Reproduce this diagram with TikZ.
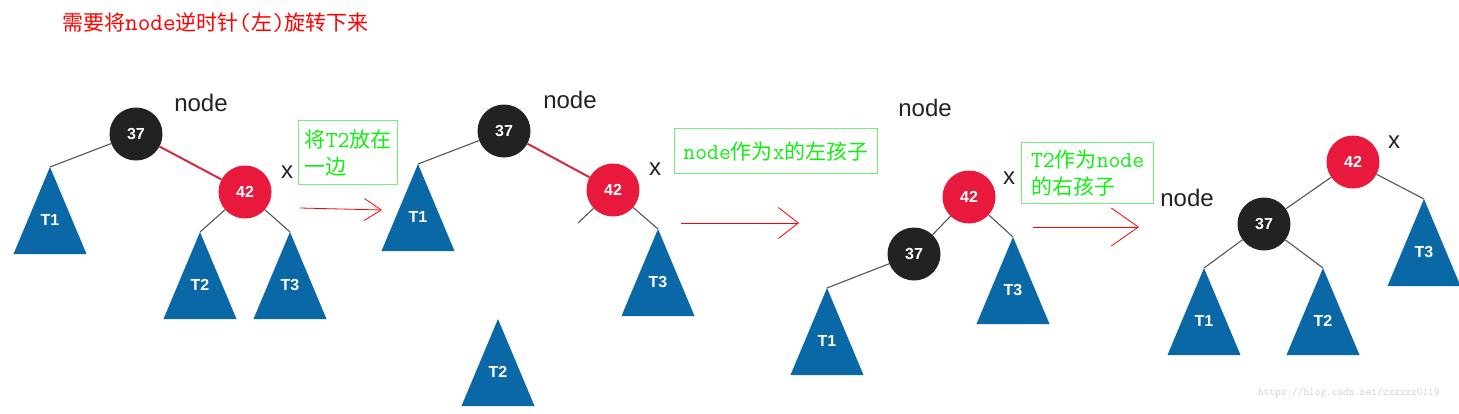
\documentclass[tikz,border=0pt]{standalone}
\usepackage{fontspec}
\setmainfont{Liberation Sans}
\newfontfamily\zh{Noto Sans CJK SC}
\usetikzlibrary{arrows.meta}
\definecolor{nblack}{HTML}{222222}
\definecolor{nred}{HTML}{E8193C}
\definecolor{tblue}{HTML}{0A68A6}
\definecolor{gtxt}{HTML}{11EE11}
\definecolor{gbox}{HTML}{77EE77}
\definecolor{edgec}{HTML}{555555}
\definecolor{redgec}{HTML}{D62A40}
\definecolor{wmark}{HTML}{CFCFCF}
\tikzset{
  rbnode/.style={circle, minimum size=53pt, inner sep=0pt, text=white, font=\bfseries\fontsize{16}{16}\selectfont},
  blk/.style={rbnode, fill=nblack},
  rd/.style={rbnode, fill=nred},
  tlab/.style={text=white, font=\bfseries\fontsize{16}{16}\selectfont, inner sep=0pt},
  lbl/.style={text=nblack, font=\fontsize{24}{24}\selectfont, inner sep=0pt},
  edge/.style={draw=edgec, line width=1.1pt},
  redge/.style={draw=redgec, line width=2pt},
  gnote/.style={draw=gbox, line width=1.2pt, text=gtxt, anchor=north west, align=left, inner xsep=5pt, inner ysep=0pt, font=\zh\fontsize{21}{27}\selectfont},
  rarrow/.style 2 args={draw=red, line width=0.8pt, -{Straight Barb[length=#1pt, width=#2pt, line width=0.8pt]}},
}
\newcommand\tri[4]{%
  \fill[tblue] (#2,#3) -- ++(36.5,87) -- ++(-73,0) -- cycle;
  \coordinate (#1) at (#2,#3);
  \node[tlab] (#1l) at (#2,#3+53) {#4};}
\newcommand\Lt[1]{{\ttfamily\fontsize{23}{23}\selectfont #1}}
\newcommand\Ltt[1]{{\ttfamily\fontsize{24.5}{24}\selectfont #1}}
\begin{document}
\begin{tikzpicture}[x=1pt,y=-1pt]
\useasboundingbox (0,0) rectangle (1459,413);
% title
\node[anchor=west, text=red, inner sep=0pt, font=\zh\fontsize{21}{21}\selectfont] (title) at (62,23) {需要将\Ltt{node}逆时针\Ltt{(}左\Ltt{)}旋转下来};

% tree 1
\tri{a1}{50}{167}{T1}
\tri{a2}{200}{232}{T2}
\tri{a3}{290}{232}{T3}
\node[blk] (a37) at (136,134) {37};
\node[rd] (a42) at (245,192) {42};
\node[lbl] (anode) at (201,103) {node};
\node[lbl] (ax) at (287,172) {x};
\draw[edge] (a37) -- (a1);
\draw[redge] (a37) -- (a42);
\draw[edge] (a42) -- (a2);
\draw[edge] (a42) -- (a3);

% note 1 and arrow 1
\node[gnote, minimum width=99pt, minimum height=64pt] (n1) at (298,120) {将\Lt{T2}放在\\一边};
\coordinate (r1s) at (300,208);
\coordinate (r1e) at (382,210);
\draw[rarrow={17}{22}] (r1s) -- (r1e);

% tree 2
\tri{b1}{418}{164}{T1}
\tri{b3}{658}{229}{T3}
\tri{b2}{498}{319}{T2}
\node[blk] (b37) at (504,131) {37};
\node[rd] (b42) at (613,190) {42};
\node[lbl] (bnode) at (570,100) {node};
\node[lbl] (bx) at (655,169) {x};
\coordinate (bstub) at (578,223);
\draw[edge] (b37) -- (b1);
\draw[redge] (b37) -- (b42);
\draw[edge] (b42) -- (bstub);
\draw[edge] (b42) -- (b3);

% note 2 and arrow 2
\node[gnote, minimum width=203pt, minimum height=45pt] (n2) at (674,128) {\Lt{node}作为\Lt{x}的左孩子};
\coordinate (r2s) at (681,223);
\coordinate (r2e) at (799,223);
\draw[rarrow={20}{31}] (r2s) -- (r2e);

% tree 3
\tri{c1}{827}{288}{T1}
\tri{c3}{1013}{237}{T3}
\node[rd] (c42) at (969,197) {42};
\node[blk] (c37) at (914,254) {37};
\node[lbl] (cnode) at (925,108) {node};
\node[lbl] (cx) at (1009,178) {x};
\draw[edge] (c42) -- (c37);
\draw[edge] (c37) -- (c1);
\draw[edge] (c42) -- (c3);

% note 3 and arrow 3
\node[gnote, minimum width=132pt, minimum height=61pt] (n3) at (1021,142) {\Lt{T2}作为\Lt{node}\\的右孩子};
\coordinate (r3s) at (1033,227);
\coordinate (r3e) at (1139,227);
\draw[rarrow={27}{38}] (r3s) -- (r3e);

% tree 4
\tri{d1}{1204}{268}{T1}
\tri{d2}{1323}{268}{T2}
\tri{d3}{1424}{199}{T3}
\node[rd] (d42) at (1353,162) {42};
\node[blk] (d37) at (1264,224) {37};
\node[lbl] (dnode) at (1187,198) {node};
\node[lbl] (dx) at (1394,142) {x};
\draw[edge] (d42) -- (d37);
\draw[edge] (d42) -- (d3);
\draw[edge] (d37) -- (d1);
\draw[edge] (d37) -- (d2);

% watermark
\node[anchor=west, text=wmark, inner sep=0pt, font=\ttfamily\fontsize{11}{11}\selectfont] (wm) at (1258,393) {https://blog.csdn.net/zxzxzx0119};
\end{tikzpicture}
\end{document}
